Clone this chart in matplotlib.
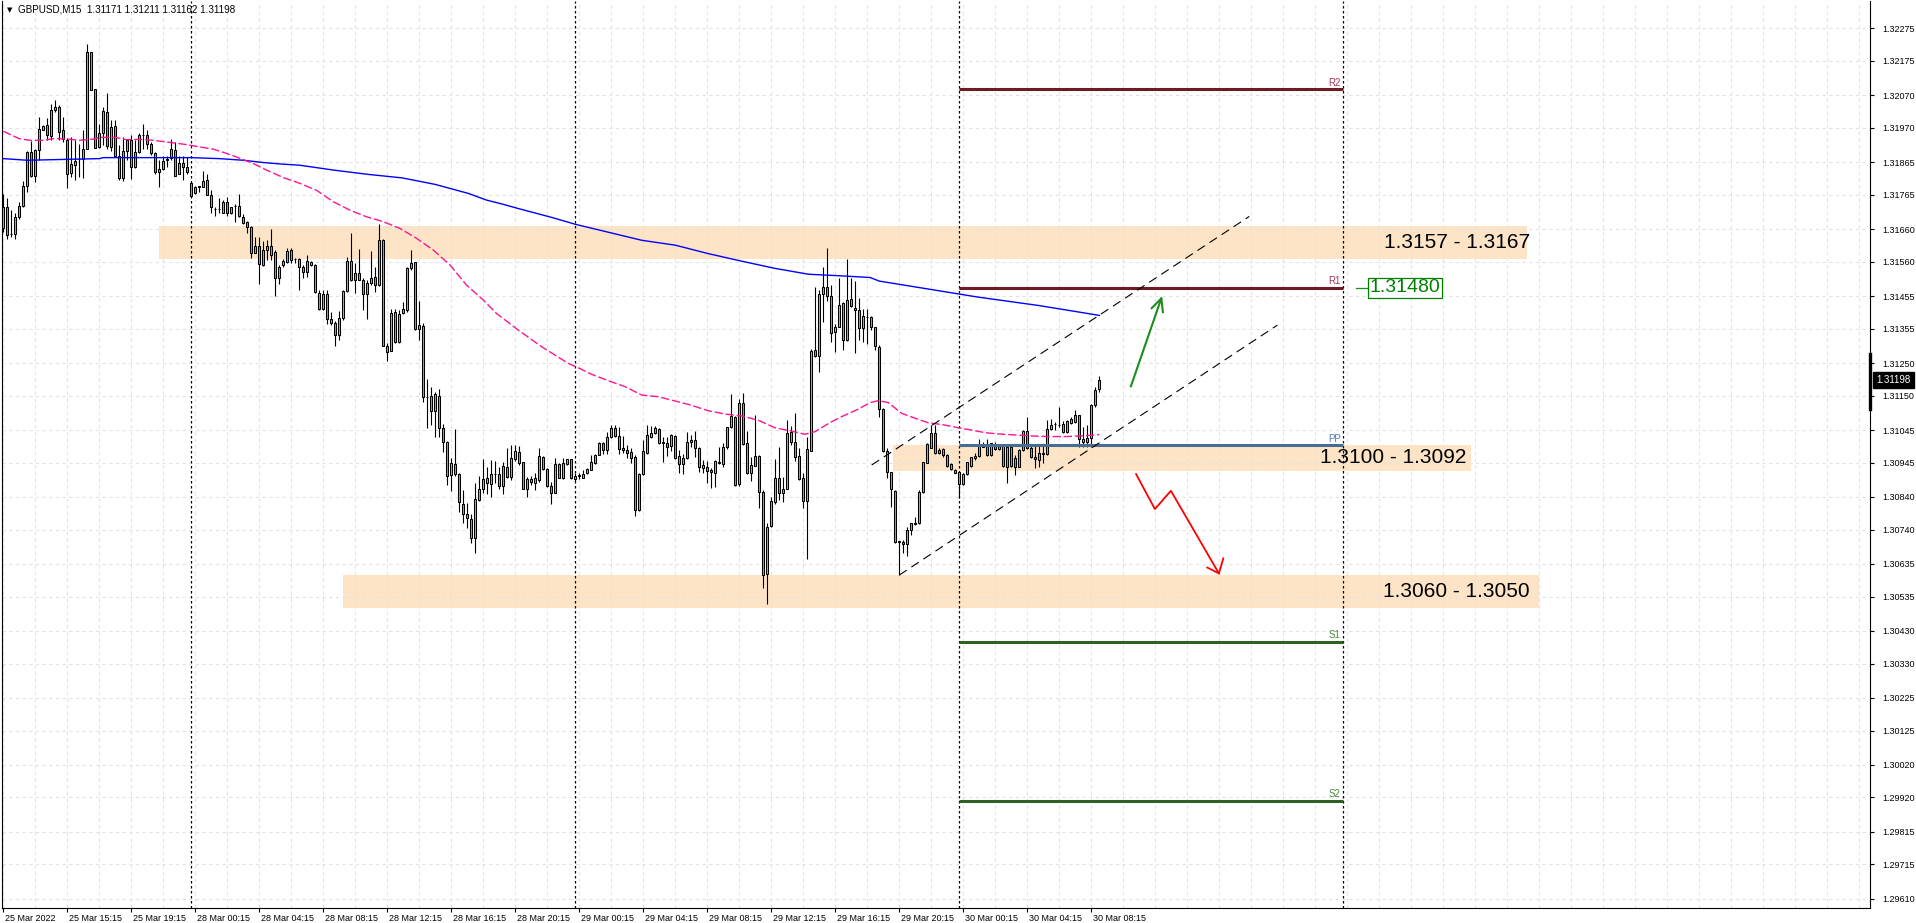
import matplotlib
matplotlib.use("Agg")
import matplotlib.pyplot as plt
import matplotlib.transforms as mtransforms
from matplotlib import font_manager
from matplotlib.patches import Rectangle
import numpy as np

installed = {f.name for f in font_manager.fontManager.ttflist}
if "Liberation Sans Narrow" in installed:
    ui_font, ui_size = "Liberation Sans Narrow", 7.5
else:
    ui_font, ui_size = "Liberation Sans", 6.5
plt.rcParams["font.family"] = ["Liberation Sans", "DejaVu Sans"]

# ---- GBPUSD M15 candles, 25 Mar 11:15 .. 30 Mar 08:45 (bar index 0..274)
open_ = [
    1.31665, 1.31728, 1.31645, 1.31645, 1.31698, 1.31730, 1.31792, 1.31895, 1.31823, 1.31902,
    1.31965, 1.31978, 1.31945, 1.32024, 1.32035, 1.31963, 1.31934, 1.31833, 1.31856, 1.31874,
    1.31874, 1.31904, 1.32201, 1.32088, 1.31912, 1.31953, 1.32020, 1.31912, 1.31977, 1.31885,
    1.31818, 1.31898, 1.31934, 1.31851, 1.31896, 1.31947, 1.31947, 1.31920, 1.31892, 1.31835,
    1.31843, 1.31871, 1.31878, 1.31902, 1.31830, 1.31864, 1.31849, 1.31800, 1.31790, 1.31790,
    1.31790, 1.31812, 1.31766, 1.31722, 1.31722, 1.31710, 1.31742, 1.31708, 1.31730, 1.31730,
    1.31696, 1.31683, 1.31667, 1.31586, 1.31608, 1.31550, 1.31596, 1.31610, 1.31591, 1.31509,
    1.31550, 1.31558, 1.31596, 1.31569, 1.31569, 1.31543, 1.31529, 1.31549, 1.31549, 1.31466,
    1.31416, 1.31463, 1.31384, 1.31374, 1.31336, 1.31387, 1.31470, 1.31562, 1.31503, 1.31525,
    1.31505, 1.31463, 1.31494, 1.31515, 1.31489, 1.31628, 1.31302, 1.31288, 1.31405, 1.31315,
    1.31402, 1.31414, 1.31540, 1.31558, 1.31353, 1.31363, 1.31145, 1.31148, 1.31104, 1.31148,
    1.31051, 1.31009, 1.30907, 1.30940, 1.30910, 1.30820, 1.30787, 1.30773, 1.30713, 1.30831,
    1.30863, 1.30882, 1.30879, 1.30910, 1.30910, 1.30874, 1.30933, 1.30902, 1.30955, 1.30977,
    1.30946, 1.30866, 1.30894, 1.30884, 1.30892, 1.30963, 1.30925, 1.30874, 1.30853, 1.30940,
    1.30897, 1.30940, 1.30955, 1.30894, 1.30904, 1.30899, 1.30912, 1.30922, 1.30943, 1.30970,
    1.31004, 1.30984, 1.31025, 1.31050, 1.31028, 1.30989, 1.30984, 1.30977, 1.30961, 1.30800,
    1.30909, 1.30975, 1.31024, 1.31035, 1.31048, 1.31007, 1.31004, 1.30996, 1.31026, 1.30965,
    1.30940, 1.30958, 1.31007, 1.31014, 1.30989, 1.30928, 1.30933, 1.30922, 1.30912, 1.30948,
    1.30940, 1.30992, 1.31055, 1.31086, 1.30879, 1.31129, 1.31004, 1.30912, 1.30935, 1.30965,
    1.30854, 1.30603, 1.30751, 1.30826, 1.30897, 1.30851, 1.30866, 1.31040, 1.31009, 1.30965,
    1.30899, 1.30829, 1.30982, 1.31290, 1.31272, 1.31463, 1.31484, 1.31455, 1.31346, 1.31361,
    1.31433, 1.31322, 1.31445, 1.31420, 1.31412, 1.31358, 1.31392, 1.31390, 1.31360, 1.31300,
    1.31108, 1.30982, 1.30915, 1.30858, 1.30705, 1.30702, 1.30695, 1.30739, 1.30756, 1.30759,
    1.30856, 1.30945, 1.30991, 1.31035, 1.30984, 1.30986, 1.30968, 1.30940, 1.30923, 1.30917,
    1.30880, 1.30910, 1.30936, 1.30958, 1.30965, 1.30999, 1.30999, 1.30968, 1.30999, 1.30996,
    1.30996, 1.30933, 1.30994, 1.30958, 1.30933, 1.30984, 1.31042, 1.30989, 1.30963, 1.30953,
    1.30972, 1.30972, 1.31047, 1.31062, 1.31060, 1.31065, 1.31040, 1.31067, 1.31070, 1.31091,
    1.31009, 1.31009, 1.31022, 1.31121, 1.31171,
]
high = [
    1.31769, 1.31754, 1.31718, 1.31710, 1.31744, 1.31807, 1.31900, 1.31929, 1.31905, 1.32002,
    1.31980, 1.31999, 1.32043, 1.32055, 1.32040, 1.32002, 1.31939, 1.31943, 1.31932, 1.31920,
    1.31965, 1.32228, 1.32203, 1.32090, 1.31983, 1.32034, 1.32077, 1.31994, 1.31994, 1.31917,
    1.31943, 1.31937, 1.31948, 1.31932, 1.31953, 1.31983, 1.31963, 1.31927, 1.31897, 1.31871,
    1.31885, 1.31885, 1.31935, 1.31926, 1.31884, 1.31883, 1.31881, 1.31802, 1.31792, 1.31792,
    1.31838, 1.31830, 1.31779, 1.31727, 1.31755, 1.31749, 1.31757, 1.31729, 1.31736, 1.31767,
    1.31706, 1.31684, 1.31669, 1.31637, 1.31637, 1.31624, 1.31626, 1.31662, 1.31596, 1.31550,
    1.31570, 1.31601, 1.31603, 1.31573, 1.31573, 1.31550, 1.31580, 1.31563, 1.31553, 1.31473,
    1.31473, 1.31473, 1.31407, 1.31379, 1.31410, 1.31475, 1.31575, 1.31647, 1.31555, 1.31598,
    1.31509, 1.31504, 1.31593, 1.31545, 1.31675, 1.31630, 1.31313, 1.31417, 1.31415, 1.31412,
    1.31438, 1.31545, 1.31596, 1.31560, 1.31440, 1.31373, 1.31201, 1.31176, 1.31160, 1.31171,
    1.31065, 1.31012, 1.30958, 1.31047, 1.30914, 1.30861, 1.30823, 1.30787, 1.30884, 1.30904,
    1.30955, 1.30933, 1.30953, 1.30951, 1.30933, 1.30948, 1.30989, 1.30999, 1.30999, 1.30996,
    1.30948, 1.30902, 1.30905, 1.30912, 1.30989, 1.30965, 1.30928, 1.30887, 1.30958, 1.30943,
    1.30958, 1.30957, 1.30957, 1.30914, 1.30912, 1.30922, 1.30929, 1.30968, 1.30973, 1.31009,
    1.31009, 1.31040, 1.31060, 1.31060, 1.31055, 1.31028, 1.30999, 1.30989, 1.30968, 1.30912,
    1.31014, 1.31060, 1.31058, 1.31058, 1.31050, 1.31024, 1.31024, 1.31033, 1.31029, 1.30984,
    1.30973, 1.31040, 1.31031, 1.31042, 1.30994, 1.30953, 1.30950, 1.30930, 1.30953, 1.30992,
    1.31004, 1.31055, 1.31155, 1.31088, 1.31139, 1.31157, 1.31043, 1.30963, 1.31091, 1.30968,
    1.30861, 1.30759, 1.30841, 1.30955, 1.30992, 1.30902, 1.31077, 1.31058, 1.31096, 1.30989,
    1.30912, 1.31025, 1.31292, 1.31484, 1.31473, 1.31545, 1.31601, 1.31489, 1.31371, 1.31509,
    1.31438, 1.31570, 1.31509, 1.31502, 1.31448, 1.31417, 1.31415, 1.31395, 1.31362, 1.31305,
    1.31111, 1.30989, 1.30917, 1.30861, 1.30706, 1.30708, 1.30749, 1.30761, 1.30780, 1.30861,
    1.30948, 1.31004, 1.31060, 1.31060, 1.30989, 1.30989, 1.30972, 1.30943, 1.30925, 1.30920,
    1.30914, 1.30948, 1.30963, 1.30974, 1.31019, 1.31009, 1.31019, 1.31006, 1.31009, 1.30999,
    1.31002, 1.30999, 1.30999, 1.30968, 1.30986, 1.31045, 1.31084, 1.30999, 1.30999, 1.30999,
    1.31002, 1.31076, 1.31078, 1.31070, 1.31116, 1.31074, 1.31076, 1.31086, 1.31106, 1.31091,
    1.31055, 1.31060, 1.31125, 1.31178, 1.31211,
]
low = [
    1.31652, 1.31631, 1.31637, 1.31631, 1.31692, 1.31728, 1.31774, 1.31819, 1.31805, 1.31873,
    1.31963, 1.31934, 1.31934, 1.32019, 1.31934, 1.31927, 1.31787, 1.31820, 1.31810, 1.31820,
    1.31817, 1.31904, 1.32085, 1.31907, 1.31910, 1.31917, 1.31904, 1.31900, 1.31883, 1.31810,
    1.31808, 1.31871, 1.31815, 1.31846, 1.31892, 1.31906, 1.31904, 1.31888, 1.31828, 1.31790,
    1.31841, 1.31851, 1.31871, 1.31823, 1.31830, 1.31810, 1.31828, 1.31762, 1.31769, 1.31774,
    1.31790, 1.31765, 1.31710, 1.31700, 1.31708, 1.31708, 1.31701, 1.31705, 1.31683, 1.31696,
    1.31677, 1.31647, 1.31573, 1.31586, 1.31492, 1.31547, 1.31565, 1.31567, 1.31456, 1.31492,
    1.31543, 1.31555, 1.31555, 1.31555, 1.31475, 1.31512, 1.31514, 1.31548, 1.31466, 1.31412,
    1.31412, 1.31369, 1.31366, 1.31303, 1.31320, 1.31382, 1.31468, 1.31502, 1.31465, 1.31504,
    1.31412, 1.31384, 1.31489, 1.31468, 1.31487, 1.31303, 1.31257, 1.31287, 1.31312, 1.31310,
    1.31399, 1.31407, 1.31535, 1.31351, 1.31320, 1.31132, 1.31052, 1.31060, 1.31023, 1.31023,
    1.30977, 1.30877, 1.30858, 1.30905, 1.30793, 1.30761, 1.30746, 1.30698, 1.30668, 1.30829,
    1.30853, 1.30849, 1.30841, 1.30882, 1.30866, 1.30848, 1.30897, 1.30892, 1.30951, 1.30938,
    1.30864, 1.30841, 1.30877, 1.30861, 1.30887, 1.30923, 1.30872, 1.30820, 1.30851, 1.30897,
    1.30895, 1.30938, 1.30895, 1.30890, 1.30894, 1.30897, 1.30909, 1.30922, 1.30940, 1.30968,
    1.30973, 1.30973, 1.31021, 1.31024, 1.30973, 1.30975, 1.30960, 1.30945, 1.30782, 1.30798,
    1.30907, 1.30973, 1.31021, 1.31032, 1.31002, 1.30948, 1.30965, 1.30981, 1.30955, 1.30912,
    1.30909, 1.30955, 1.30994, 1.30963, 1.30917, 1.30912, 1.30884, 1.30869, 1.30871, 1.30940,
    1.30933, 1.30986, 1.31050, 1.30874, 1.30874, 1.30999, 1.30909, 1.30889, 1.30935, 1.30805,
    1.30560, 1.30512, 1.30749, 1.30820, 1.30831, 1.30826, 1.30863, 1.30999, 1.30950, 1.30892,
    1.30807, 1.30650, 1.30982, 1.31269, 1.31223, 1.31376, 1.31439, 1.31315, 1.31285, 1.31359,
    1.31290, 1.31318, 1.31422, 1.31282, 1.31320, 1.31315, 1.31307, 1.31350, 1.31290, 1.31086,
    1.30979, 1.30897, 1.30810, 1.30698, 1.30601, 1.30670, 1.30660, 1.30724, 1.30754, 1.30757,
    1.30853, 1.30943, 1.30989, 1.30972, 1.30972, 1.30963, 1.30933, 1.30923, 1.30912, 1.30836,
    1.30877, 1.30907, 1.30933, 1.30953, 1.30963, 1.30992, 1.30965, 1.30965, 1.30984, 1.30984,
    1.30931, 1.30884, 1.30933, 1.30907, 1.30931, 1.30982, 1.30987, 1.30958, 1.30928, 1.30931,
    1.30943, 1.30969, 1.31045, 1.31045, 1.31055, 1.31037, 1.31037, 1.31065, 1.31068, 1.30994,
    1.30994, 1.30994, 1.30994, 1.31116, 1.31162,
]
close_ = [
    1.31728, 1.31642, 1.31646, 1.31696, 1.31730, 1.31792, 1.31895, 1.31823, 1.31902, 1.31968,
    1.31975, 1.31948, 1.32024, 1.32033, 1.31958, 1.31937, 1.31830, 1.31859, 1.31868, 1.31875,
    1.31905, 1.32201, 1.32087, 1.31910, 1.31953, 1.32023, 1.31914, 1.31973, 1.31885, 1.31818,
    1.31898, 1.31932, 1.31851, 1.31895, 1.31947, 1.31948, 1.31920, 1.31892, 1.31835, 1.31843,
    1.31869, 1.31875, 1.31904, 1.31823, 1.31864, 1.31849, 1.31835, 1.31762, 1.31772, 1.31791,
    1.31808, 1.31766, 1.31727, 1.31721, 1.31723, 1.31742, 1.31710, 1.31727, 1.31731, 1.31700,
    1.31680, 1.31667, 1.31586, 1.31608, 1.31552, 1.31596, 1.31610, 1.31580, 1.31509, 1.31545,
    1.31563, 1.31593, 1.31567, 1.31570, 1.31543, 1.31529, 1.31563, 1.31558, 1.31468, 1.31416,
    1.31463, 1.31384, 1.31374, 1.31336, 1.31387, 1.31470, 1.31562, 1.31503, 1.31525, 1.31505,
    1.31463, 1.31495, 1.31512, 1.31489, 1.31628, 1.31303, 1.31285, 1.31402, 1.31315, 1.31399,
    1.31417, 1.31540, 1.31557, 1.31353, 1.31366, 1.31147, 1.31146, 1.31104, 1.31154, 1.31052,
    1.31009, 1.30905, 1.30943, 1.30909, 1.30824, 1.30787, 1.30775, 1.30713, 1.30833, 1.30863,
    1.30894, 1.30897, 1.30910, 1.30911, 1.30875, 1.30935, 1.30902, 1.30958, 1.30981, 1.30943,
    1.30866, 1.30894, 1.30887, 1.30897, 1.30966, 1.30925, 1.30875, 1.30853, 1.30940, 1.30899,
    1.30943, 1.30955, 1.30897, 1.30904, 1.30906, 1.30909, 1.30927, 1.30946, 1.30970, 1.31004,
    1.30984, 1.31025, 1.31050, 1.31028, 1.30987, 1.30984, 1.30976, 1.30958, 1.30800, 1.30909,
    1.30981, 1.31029, 1.31035, 1.31050, 1.31004, 1.31006, 1.30994, 1.31029, 1.30958, 1.30940,
    1.30958, 1.31007, 1.31016, 1.30989, 1.30933, 1.30938, 1.30919, 1.30915, 1.30950, 1.30943,
    1.30992, 1.31053, 1.31089, 1.30877, 1.31129, 1.31002, 1.30914, 1.30938, 1.30965, 1.30856,
    1.30601, 1.30747, 1.30828, 1.30897, 1.30851, 1.30866, 1.31035, 1.31009, 1.30963, 1.30895,
    1.30829, 1.30986, 1.31287, 1.31272, 1.31463, 1.31484, 1.31455, 1.31343, 1.31361, 1.31429,
    1.31322, 1.31443, 1.31426, 1.31412, 1.31358, 1.31394, 1.31390, 1.31360, 1.31302, 1.31108,
    1.30982, 1.30917, 1.30863, 1.30701, 1.30701, 1.30695, 1.30739, 1.30759, 1.30761, 1.30856,
    1.30946, 1.31001, 1.31035, 1.30974, 1.30974, 1.30968, 1.30935, 1.30925, 1.30914, 1.30880,
    1.30910, 1.30946, 1.30961, 1.30965, 1.30996, 1.30994, 1.30968, 1.31004, 1.30986, 1.30986,
    1.30935, 1.30994, 1.30935, 1.30933, 1.30984, 1.31042, 1.30989, 1.30961, 1.30955, 1.30976,
    1.30976, 1.31047, 1.31060, 1.31063, 1.31061, 1.31040, 1.31074, 1.31078, 1.31091, 1.31019,
    1.31019, 1.31022, 1.31121, 1.31169, 1.31198,
]

# moving averages (bar index, price)
ma_slow_bar = [0, 6, 24, 25, 47, 54, 60, 65, 70, 74, 82.5, 91, 99.7, 108, 116.4, 120.8,
               124.7, 128.8, 137.1, 143, 159.6, 168, 176.3, 184.6, 192.9, 201.3, 209.6,
               216.7, 219, 243.7, 259, 274]
ma_slow = [1.31876, 1.31871, 1.31876, 1.31879, 1.31879, 1.31876, 1.31871, 1.31864, 1.31859,
           1.31856, 1.31841, 1.31828, 1.31817, 1.31797, 1.31769, 1.31749, 1.31737, 1.31723,
           1.31696, 1.31675, 1.31626, 1.31611, 1.31585, 1.31562, 1.31540, 1.31522, 1.31517,
           1.31512, 1.31501, 1.31452, 1.31426, 1.31396]
ma_fast_bar = [0, 4, 6.7, 10, 12.5, 16, 19, 22.5, 24, 28, 30.8, 34, 37.5, 40.8, 45.8, 49,
               52.5, 55.8, 58.3, 62.5, 65.8, 70, 74.2, 78.3, 82.5, 86.7, 90.8, 95, 99.2,
               103.3, 107.5, 111.7, 115.8, 120, 123.3, 128.75, 134.6, 141.25, 144, 147,
               151.25, 155.4, 159.6, 163.75, 167.9, 172, 176.25, 180.4, 184.6, 188.75,
               192.9, 197, 200.4, 202.9, 207, 209.6, 213.75, 216.7, 218.75, 221.25, 224.6,
               228, 231.25, 234.6, 238.75, 242, 245.4, 248.75, 252.9, 257, 261.25, 265.4,
               269.6, 272.9, 274]
ma_fast = [1.31960, 1.31937, 1.31932, 1.31932, 1.31937, 1.31936, 1.31932, 1.31936, 1.31941,
           1.31941, 1.31934, 1.31935, 1.31932, 1.31927, 1.31919, 1.31912, 1.31905, 1.31892,
           1.31881, 1.31861, 1.31841, 1.31818, 1.31800, 1.31779, 1.31744, 1.31718, 1.31698,
           1.31683, 1.31662, 1.31632, 1.31596, 1.31550, 1.31489, 1.31443, 1.31402, 1.31351,
           1.31300, 1.31249, 1.31234, 1.31216, 1.31196, 1.31178, 1.31152, 1.31147, 1.31134,
           1.31121, 1.31104, 1.31094, 1.31088, 1.31075, 1.31052, 1.31042, 1.31032, 1.31040,
           1.31070, 1.31086, 1.31109, 1.31129, 1.31135, 1.31129, 1.31096, 1.31081, 1.31067,
           1.31062, 1.31052, 1.31045, 1.31037, 1.31033, 1.31030, 1.31027, 1.31025, 1.31025,
           1.31027, 1.31030, 1.31031]

# time axis
x_labels = ["25 Mar 2022", "25 Mar 15:15", "25 Mar 19:15", "28 Mar 00:15", "28 Mar 04:15",
            "28 Mar 08:15", "28 Mar 12:15", "28 Mar 16:15", "28 Mar 20:15", "29 Mar 00:15",
            "29 Mar 04:15", "29 Mar 08:15", "29 Mar 12:15", "29 Mar 16:15", "29 Mar 20:15",
            "30 Mar 00:15", "30 Mar 04:15", "30 Mar 08:15"]
x_label_bars = list(range(0, 273, 16))
day_breaks = [47, 143, 239, 335]

price_ticks = [1.32275, 1.32175, 1.32070, 1.31970, 1.31865, 1.31765, 1.31660, 1.31560,
               1.31455, 1.31355, 1.31250, 1.31150, 1.31045, 1.30945, 1.30840, 1.30740,
               1.30635, 1.30535, 1.30430, 1.30330, 1.30225, 1.30125, 1.30020, 1.29920,
               1.29815, 1.29715, 1.29610]

# support / resistance zones
zone_low = [1.3157, 1.3092, 1.3050]
zone_high = [1.3167, 1.3100, 1.3060]
zone_start = [38.9, 222.5, 85.0]
zone_end = [380.8, 366.9, 383.9]
zone_text = ["1.3157 - 1.3167", "1.3100 - 1.3092", "1.3060 - 1.3050"]

# daily pivots for 30 Mar
pivot_names = ["R2", "R1", "PP", "S1", "S2"]
pivot_levels = [1.32088, 1.31480, 1.30998, 1.30396, 1.29910]
pivot_from, pivot_to = 239, 335

# trend channel (bar, price)
channel_up_bar, channel_up = [217.1, 311.5], [1.30938, 1.31699]
channel_dn_bar, channel_dn = [224.0, 318.5], [1.30601, 1.31366]

# scenario arrows (bar, price)
green_bar, green_px = [281.9, 289.5], [1.31179, 1.31448]
green_head_bar, green_head_px = [287.1, 289.5, 289.9], [1.31418, 1.31448, 1.31406]
red_bar, red_px = [283.2, 287.9, 291.9, 303.9], [1.30910, 1.30803, 1.30859, 1.30606]
red_head_bar, red_head_px = [301.0, 303.9, 305.0], [1.30624, 1.30606, 1.30652]

last_o, last_h, last_l, last_c = 1.31171, 1.31211, 1.31162, 1.31198

# ---------------------------------------------------------------- figure
W, H = 1916, 923
fig = plt.figure(figsize=(W / 100, H / 100), dpi=100)
fig.patch.set_facecolor("white")
ax = fig.add_axes([2 / W, (H - 908) / H, 1868 / W, 907 / H])
ax.set_xlim(-0.325, 466.675)
ax.set_ylim(1.295816, 1.323586)

grid_kw = dict(color="#e3e3e3", lw=0.8, ls=(0, (3, 3)), zorder=1.5)
for gx in range(0, 467, 8):
    ax.axvline(gx, **grid_kw)
for gy in price_ticks:
    ax.axhline(gy, **grid_kw)

for lo, hi, x0, x1 in zip(zone_low, zone_high, zone_start, zone_end):
    ax.add_patch(Rectangle((x0, lo), x1 - x0, hi - lo, fc="#fde4c6", ec="none", zorder=1))

for d in day_breaks:
    ax.axvline(d, color="black", lw=0.9, ls=(0, (2, 2)), zorder=2.5)

# candles
o = np.array(open_); h = np.array(high); l = np.array(low); c = np.array(close_)
xb = np.arange(len(c))
ax.vlines(xb, l, h, color="black", lw=0.8, zorder=3)
body = np.maximum(np.abs(c - o), 0.000004)
ax.bar(xb, body, bottom=np.minimum(o, c), width=0.5,
       color=np.where(c >= o, "#9acd32", "#ff8c00"),
       edgecolor="black", linewidth=0.75, zorder=4)

# moving averages
ax.plot(ma_slow_bar, ma_slow, color="#0000ff", lw=1.0, zorder=5)
ax.plot(ma_fast_bar, ma_fast, color="#ff1493", lw=1.0, ls=(0, (6, 2)), zorder=5)

# pivots
piv_line = {"R": "#6d1a22", "P": "#466e94", "S": "#2f5f22"}
piv_text = {"R": "#a8365a", "P": "#4d7ac4", "S": "#4a8a3a"}
for name, lev in zip(pivot_names, pivot_levels):
    ax.hlines(lev, pivot_from, pivot_to, color=piv_line[name[0]], lw=2.2, zorder=5)
    ax.text(pivot_to - 0.6, lev + 0.00005, name, ha="right", va="bottom",
            fontsize=7, color=piv_text[name[0]], zorder=6)

# channel
ax.plot(channel_up_bar, channel_up, color="black", lw=0.8, ls=(0, (8, 5)), zorder=5)
ax.plot(channel_dn_bar, channel_dn, color="black", lw=0.8, ls=(0, (8, 5)), zorder=5)

# arrows
ax.plot(green_bar, green_px, color="#1e8c1e", lw=1.5, zorder=6)
ax.plot(green_head_bar, green_head_px, color="#1e8c1e", lw=1.5, zorder=6)
ax.plot(red_bar, red_px, color="#ff0000", lw=1.3, zorder=6)
ax.plot(red_head_bar, red_head_px, color="#ff0000", lw=1.3, zorder=6)

# zone captions
text_right = [381.7, 365.7, 381.7]
for lo, hi, xr, t in zip(zone_low, zone_high, text_right, zone_text):
    ax.text(xr, (lo + hi) / 2, t, ha="right", va="center", fontsize=15,
            color="black", zorder=7)

# R1 price tag
ax.plot([338.2, 340.9], [pivot_levels[1], pivot_levels[1]], color="#1e8c1e", lw=0.9, zorder=6)
ax.text(341.6, pivot_levels[1], "%.5f" % pivot_levels[1], ha="left", va="center",
        fontsize=14, color="#008000", zorder=7,
        bbox=dict(boxstyle="square,pad=0.08", fc="white", ec="#008000", lw=0.9))

# axes styling
for s in ["left", "bottom", "right"]:
    ax.spines[s].set_color("black")
    ax.spines[s].set_linewidth(0.8)
ax.spines["top"].set_visible(False)

ax.yaxis.tick_right()
ax.set_yticks(price_ticks)
ax.set_yticklabels(["%.5f" % v for v in price_ticks], fontsize=ui_size, fontfamily=ui_font)
ax.tick_params(axis="y", direction="out", length=3, width=0.8, pad=6)
ax.set_xticks(x_label_bars)
ax.set_xticklabels(x_labels, fontsize=ui_size, fontfamily=ui_font, ha="left")
ax.tick_params(axis="x", direction="out", length=3, width=0.8, pad=1.2)
shift = mtransforms.ScaledTranslation(2 / 100, 0, fig.dpi_scale_trans)
for lbl in ax.get_xticklabels():
    lbl.set_transform(lbl.get_transform() + shift)

# current price marker on the price scale
trans = mtransforms.blended_transform_factory(ax.transAxes, ax.transData)
ax.plot([1.0, 1.0], [1.31278, 1.31109], transform=trans, color="black", lw=2.4,
        clip_on=False, zorder=10)
ax.text(1.0035, last_c, "%.5f" % last_c, transform=trans, ha="left", va="center",
        fontsize=ui_size + 0.5, fontfamily=ui_font, color="white", clip_on=False, zorder=11,
        bbox=dict(boxstyle="square,pad=0.35", fc="black", ec="black"))

# header
fig.text(7 / W, 1 - 10 / H, "\u25bc", fontsize=5, va="center", ha="left",
         family="DejaVu Sans")
fig.text(18 / W, 1 - 10 / H,
         "GBPUSD,M15  %.5f %.5f %.5f %.5f" % (last_o, last_h, last_l, last_c),
         fontsize=ui_size + 0.6, fontfamily=ui_font, va="center", ha="left")

fig.savefig("out.png", dpi=100)
